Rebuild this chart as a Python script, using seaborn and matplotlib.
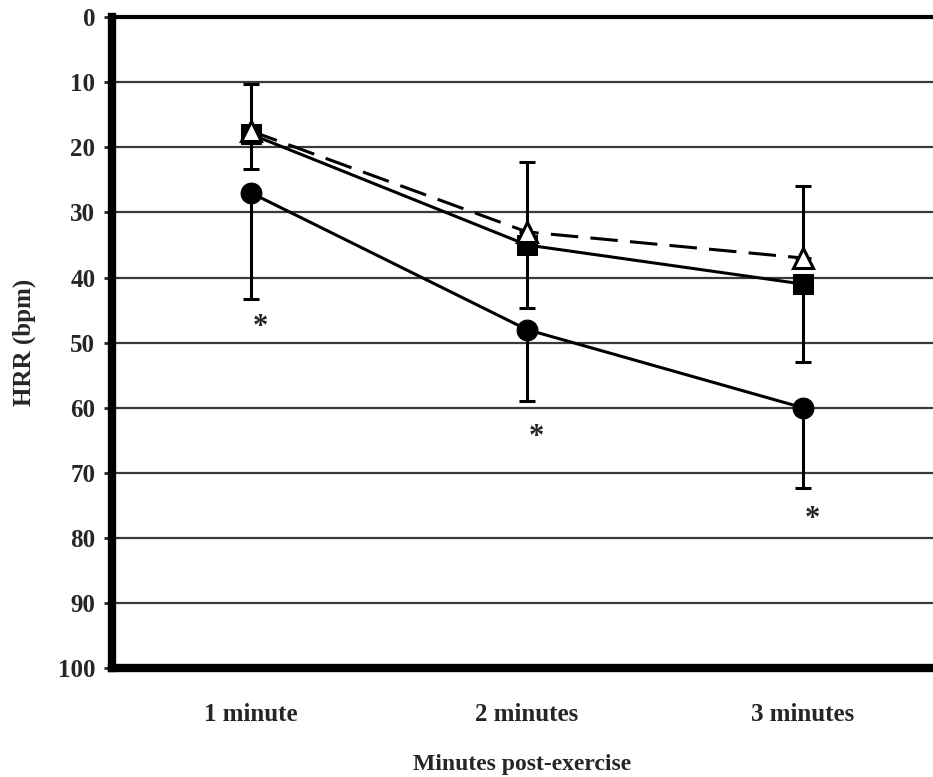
import matplotlib
matplotlib.use("Agg")
import matplotlib.pyplot as plt
import seaborn as sns
import pandas as pd

# Heart-rate recovery after exercise, three groups
minutes = ["1 minute", "2 minutes", "3 minutes"]
circle_hrr = [27, 48, 60]
circle_sd = [16.3, 11, 12.3]
square_hrr = [18, 35, 41]
square_sd = [5.4, 9.7, 12]
triangle_hrr = [17.5, 33, 37]
triangle_sd = [7.3, 10.8, 11.1]
star_y = [47.6, 64.6, 77.2]
y_ticks = list(range(0, 101, 10))

sns.set_style("white")
plt.rcParams["font.family"] = ["Liberation Serif", "DejaVu Serif"]
plt.rcParams["font.weight"] = "bold"

pos = list(range(len(minutes)))
df = pd.DataFrame({
    "pos": pos * 3,
    "hrr": circle_hrr + square_hrr + triangle_hrr,
    "group": ["circle"] * 3 + ["square"] * 3 + ["triangle"] * 3,
})

fig = plt.figure(figsize=(9.33, 7.77), dpi=100)
ax = fig.add_axes([0.120, 0.140, 0.880, 0.838])

# horizontal reference lines
for t in y_ticks[1:-1]:
    ax.axhline(t, color="#3a3a3a", lw=1.6, zorder=1)

lw = 2.2
# error bars: circle and square downward, triangle upward
ax.errorbar(pos, circle_hrr, yerr=[[0] * 3, circle_sd], fmt="none",
            ecolor="black", elinewidth=2.2, capsize=6, capthick=2.2, zorder=3)
ax.errorbar(pos, square_hrr, yerr=[[0] * 3, square_sd], fmt="none",
            ecolor="black", elinewidth=2.2, capsize=6, capthick=2.2, zorder=3)
ax.errorbar(pos, triangle_hrr, yerr=[triangle_sd, [0] * 3], fmt="none",
            ecolor="black", elinewidth=2.2, capsize=6, capthick=2.2, zorder=3)

sns.lineplot(data=df[df.group == "circle"], x="pos", y="hrr", ax=ax,
             color="black", lw=lw, marker="o", markersize=15,
             markerfacecolor="black", markeredgecolor="black", zorder=4)
sns.lineplot(data=df[df.group == "square"], x="pos", y="hrr", ax=ax,
             color="black", lw=lw, marker="s", markersize=15,
             markerfacecolor="black", markeredgecolor="black", zorder=5)
sns.lineplot(data=df[df.group == "triangle"], x="pos", y="hrr", ax=ax,
             color="black", lw=lw, marker="^", markersize=15,
             markerfacecolor="white", markeredgecolor="black",
             markeredgewidth=2.2, zorder=6, dashes=False)
ax.lines[-1].set_dashes((9, 4))

# significance markers
for p, s in zip(pos, star_y):
    ax.text(p + 0.035, s, "*", ha="center", va="center", fontsize=22,
            fontweight="bold", zorder=7)

ax.set_xlim(-0.504, 2.471)
ax.set_ylim(100, 0)
ax.set_yticks(y_ticks)
ax.set_xticks(pos)
ax.set_xticklabels(minutes)
ax.tick_params(axis="y", length=6, width=2, direction="out", pad=6,
               labelsize=18, left=True)
ax.tick_params(axis="x", length=0, pad=25, labelsize=18)
for lab in ax.get_xticklabels() + ax.get_yticklabels():
    lab.set_fontweight("bold")

ax.set_xlabel("Minutes post-exercise", fontsize=17, fontweight="bold",
              labelpad=20)
ax.set_ylabel("HRR (bpm)", fontsize=18, fontweight="bold", labelpad=16)

ax.spines["right"].set_visible(False)
ax.spines["left"].set_linewidth(6)
ax.spines["bottom"].set_linewidth(6)
ax.spines["top"].set_linewidth(3)
for s in ax.spines.values():
    s.set_color("black")

fig.savefig("out.png", dpi=100)
